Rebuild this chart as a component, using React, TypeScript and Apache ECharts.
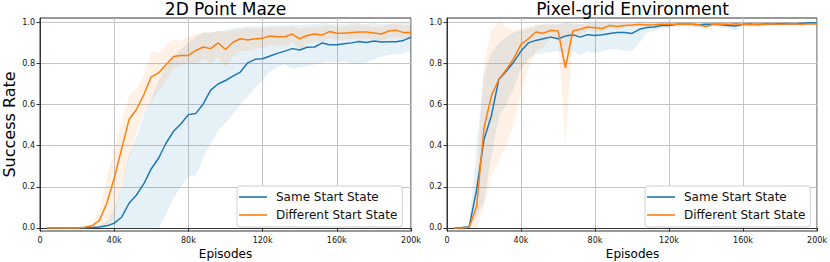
import React, { useEffect, useRef } from "react";
import * as echarts from "echarts";

const episodes = [
  4000, 8000, 12000, 16000, 20000, 24000, 28000, 32000, 36000, 40000,
  44000, 48000, 52000, 56000, 60000, 64000, 68000, 72000, 76000, 80000,
  84000, 88000, 92000, 96000, 100000, 104000, 108000, 112000, 116000, 120000,
  124000, 128000, 132000, 136000, 140000, 144000, 148000, 152000, 156000, 160000,
  164000, 168000, 172000, 176000, 180000, 184000, 188000, 192000, 196000, 200000,
];

const xTicks = [0, 40000, 80000, 120000, 160000, 200000];
const yTicks = [0, 0.2, 0.4, 0.6, 0.8, 1.0];
const seriesNames = ["Same Start State", "Different Start State"];
const panelTitles = ["2D Point Maze", "Pixel-grid Environment"];

// 2D Point Maze
const mazeSame = [
  0, 0, 0, 0, 0, 0.001, 0.002, 0.004, 0.01, 0.023,
  0.052, 0.12, 0.16, 0.215, 0.288, 0.34, 0.413, 0.47, 0.507, 0.551,
  0.557, 0.603, 0.67, 0.7, 0.717, 0.738, 0.758, 0.803, 0.82, 0.823,
  0.836, 0.849, 0.86, 0.872, 0.865, 0.879, 0.88, 0.899, 0.891, 0.891,
  0.896, 0.9, 0.907, 0.902, 0.909, 0.904, 0.905, 0.905, 0.912, 0.928,
];
const mazeSameLow = [
  0, 0, 0, 0, 0, 0, 0, 0, 0, 0,
  0, 0, 0, 0, 0, 0, 0.07, 0.145, 0.2, 0.25,
  0.256, 0.34, 0.41, 0.475, 0.51, 0.555, 0.6, 0.64, 0.68, 0.72,
  0.76, 0.785, 0.795, 0.775, 0.78, 0.787, 0.795, 0.805, 0.81, 0.805,
  0.81, 0.8, 0.8, 0.805, 0.82, 0.835, 0.84, 0.845, 0.85, 0.86,
];
const mazeSameHigh = [
  0, 0, 0, 0, 0, 0.002, 0.005, 0.01, 0.03, 0.09,
  0.2, 0.36, 0.44, 0.55, 0.63, 0.72, 0.78, 0.83, 0.87, 0.9,
  0.93, 0.95, 0.95, 0.955, 0.96, 0.97, 0.975, 0.98, 0.98, 0.98,
  0.985, 0.985, 0.985, 0.99, 0.985, 0.99, 0.99, 0.995, 0.99, 0.99,
  0.99, 0.995, 0.995, 0.99, 0.995, 0.99, 0.99, 0.995, 0.995, 0.997,
];
const mazeDiff = [
  0, 0, 0, 0, 0, 0.003, 0.01, 0.036, 0.12, 0.242,
  0.384, 0.527, 0.576, 0.649, 0.735, 0.755, 0.795, 0.834, 0.839, 0.839,
  0.863, 0.88, 0.872, 0.9, 0.868, 0.903, 0.92, 0.914, 0.92, 0.923,
  0.933, 0.93, 0.93, 0.943, 0.92, 0.936, 0.943, 0.938, 0.955, 0.947,
  0.947, 0.95, 0.953, 0.953, 0.948, 0.943, 0.958, 0.962, 0.95, 0.95,
];
const mazeDiffLow = [
  0, 0, 0, 0, 0, 0, 0, 0, 0.01, 0.05,
  0.2, 0.34, 0.46, 0.56, 0.62, 0.67, 0.72, 0.78, 0.79, 0.8,
  0.8, 0.82, 0.8, 0.83, 0.78, 0.83, 0.86, 0.86, 0.87, 0.875,
  0.89, 0.885, 0.885, 0.9, 0.87, 0.895, 0.905, 0.9, 0.925, 0.915,
  0.915, 0.92, 0.92, 0.92, 0.915, 0.91, 0.925, 0.93, 0.915, 0.915,
];
const mazeDiffHigh = [
  0, 0, 0, 0, 0, 0.005, 0.02, 0.08, 0.25, 0.38,
  0.52, 0.64, 0.68, 0.74, 0.86, 0.85, 0.89, 0.915, 0.91, 0.93,
  0.94, 0.95, 0.95, 0.96, 0.955, 0.96, 0.965, 0.97, 0.97, 0.97,
  0.975, 0.975, 0.975, 0.98, 0.97, 0.975, 0.98, 0.98, 0.985, 0.98,
  0.98, 0.985, 0.985, 0.985, 0.98, 0.98, 0.99, 0.99, 0.985, 0.985,
];

// Pixel-grid Environment
const pixelSame = [
  0, 0.002, 0.006, 0.185, 0.43, 0.546, 0.722, 0.762, 0.806, 0.86,
  0.9, 0.912, 0.92, 0.928, 0.92, 0.933, 0.94, 0.928, 0.94, 0.936,
  0.94, 0.946, 0.95, 0.95, 0.946, 0.966, 0.975, 0.977, 0.985, 0.985,
  0.99, 0.99, 0.99, 0.988, 0.99, 0.99, 0.988, 0.985, 0.982, 0.99,
  0.992, 0.988, 0.992, 0.993, 0.993, 0.994, 0.993, 0.995, 0.998, 0.997,
];
const pixelSameLow = [
  0, 0, 0, 0.05, 0.13, 0.35, 0.54, 0.6, 0.68, 0.77,
  0.82, 0.845, 0.85, 0.855, 0.86, 0.85, 0.86, 0.84, 0.86, 0.85,
  0.86, 0.868, 0.87, 0.86, 0.86, 0.9, 0.95, 0.96, 0.97, 0.975,
  0.98, 0.98, 0.98, 0.975, 0.98, 0.98, 0.975, 0.97, 0.96, 0.98,
  0.985, 0.975, 0.985, 0.985, 0.985, 0.988, 0.985, 0.99, 0.995, 0.994,
];
const pixelSameHigh = [
  0, 0.003, 0.012, 0.4, 0.75, 0.85, 0.9, 0.93, 0.95, 0.96,
  0.97, 0.98, 0.99, 0.99, 0.99, 0.995, 0.995, 0.99, 0.995, 0.995,
  0.995, 0.995, 0.995, 0.995, 0.995, 1.0, 1.0, 1.0, 1.0, 1.0,
  1.0, 1.0, 1.0, 1.0, 1.0, 1.0, 1.0, 1.0, 1.0, 1.0,
  1.0, 1.0, 1.0, 1.0, 1.0, 1.0, 1.0, 1.0, 1.0, 1.0,
];
const pixelDiff = [
  0, 0, 0.003, 0.104, 0.486, 0.644, 0.722, 0.77, 0.823, 0.893,
  0.92, 0.953, 0.947, 0.961, 0.958, 0.779, 0.958, 0.966, 0.977, 0.973,
  0.97, 0.985, 0.98, 0.985, 0.987, 0.99, 0.987, 0.988, 0.99, 0.99,
  0.99, 0.992, 0.99, 0.988, 0.98, 0.99, 0.992, 0.99, 0.993, 0.99,
  0.988, 0.992, 0.99, 0.993, 0.99, 0.992, 0.993, 0.99, 0.993, 0.992,
];
const pixelDiffLow = [
  0, 0, 0, 0, 0.1, 0.25, 0.33, 0.4, 0.5, 0.65,
  0.78, 0.86, 0.88, 0.92, 0.92, 0.4, 0.92, 0.94, 0.96, 0.955,
  0.95, 0.975, 0.965, 0.975, 0.978, 0.982, 0.978, 0.98, 0.982, 0.982,
  0.982, 0.985, 0.982, 0.978, 0.965, 0.982, 0.985, 0.982, 0.986, 0.982,
  0.978, 0.985, 0.982, 0.986, 0.982, 0.985, 0.986, 0.982, 0.986, 0.985,
];
const pixelDiffHigh = [
  0, 0, 0.008, 0.22, 0.8, 0.96, 1.0, 0.98, 0.96, 0.97,
  0.98, 0.99, 0.99, 0.99, 0.99, 1.0, 0.99, 0.99, 0.995, 0.995,
  0.995, 0.998, 0.995, 0.998, 0.998, 1.0, 0.998, 0.998, 1.0, 1.0,
  1.0, 1.0, 1.0, 0.998, 0.995, 1.0, 1.0, 1.0, 1.0, 1.0,
  0.998, 1.0, 1.0, 1.0, 1.0, 1.0, 1.0, 1.0, 1.0, 1.0,
];

const BLUE = "#1f77b4";
const ORANGE = "#ff7f0e";
const FONT = "DejaVu Sans";

function lineSeries(idx: number, name: string, vals: number[], color: string) {
  return {
    type: "line",
    name,
    xAxisIndex: idx,
    yAxisIndex: idx,
    data: episodes.map((e, i) => [e, vals[i]]),
    symbol: "none",
    showSymbol: false,
    clip: true,
    z: 3,
    lineStyle: { color, width: 1.5 },
    itemStyle: { color },
  };
}

function bandSeries(idx: number, low: number[], high: number[], fill: string) {
  return {
    type: "custom",
    xAxisIndex: idx,
    yAxisIndex: idx,
    silent: true,
    clip: true,
    z: 1,
    data: [[episodes[0], low[0]]],
    encode: { x: 0, y: 1 },
    renderItem: (_p: any, api: any) => {
      const pts: number[][] = [];
      for (let i = 0; i < episodes.length; i++) pts.push(api.coord([episodes[i], high[i]]));
      for (let i = episodes.length - 1; i >= 0; i--) pts.push(api.coord([episodes[i], low[i]]));
      return { type: "polygon", shape: { points: pts }, style: { fill, stroke: "none" } };
    },
  };
}

function xAxis(idx: number) {
  return {
    type: "value",
    gridIndex: idx,
    min: 0,
    max: 200000,
    interval: 40000,
    axisLine: { show: true, lineStyle: { color: "#333", width: 1 } },
    axisTick: { show: true, length: 3.5, customValues: xTicks, lineStyle: { color: "#333" } },
    axisLabel: {
      customValues: xTicks,
      formatter: (v: number) => (v === 0 ? "0" : v / 1000 + "k"),
      fontSize: 8,
      fontFamily: FONT,
      color: "#111",
      margin: 5,
    },
    splitLine: { show: true, lineStyle: { color: "#c4c4c4", width: 1 } },
  };
}

function yAxis(idx: number) {
  return {
    type: "value",
    gridIndex: idx,
    min: -0.015,
    max: 1.021,
    axisLine: { show: true, lineStyle: { color: "#333", width: 1 } },
    axisTick: { show: true, length: 3.5, customValues: yTicks, lineStyle: { color: "#333" } },
    axisLabel: {
      customValues: yTicks,
      formatter: (v: number) => v.toFixed(1),
      fontSize: 8,
      fontFamily: FONT,
      color: "#111",
      margin: 5,
    },
    splitLine: { show: true, lineStyle: { color: "#c4c4c4", width: 1 } },
  };
}

function legend(left: number) {
  return {
    orient: "vertical",
    left,
    top: 186,
    padding: [4, 5, 5, 2],
    itemGap: 4,
    itemWidth: 28,
    itemHeight: 1.6,
    icon: "rect",
    selectedMode: false,
    backgroundColor: "#fff",
    borderColor: "#d0d0d0",
    borderWidth: 1,
    borderRadius: 3,
    textStyle: { fontSize: 12, fontFamily: FONT, color: "#111", padding: [0, 0, 0, 4], lineHeight: 14 },
    data: seriesNames,
  };
}

function txt(x: number, y: number, text: string, size: number, rotation = 0) {
  return {
    type: "text",
    x,
    y,
    rotation,
    style: {
      text,
      fontSize: size,
      fontFamily: FONT,
      fill: "#000",
      align: "center",
      verticalAlign: "middle",
    },
  };
}

export default function App() {
  const ref = useRef<HTMLDivElement>(null);
  useEffect(() => {
    if (!ref.current) return;
    const chart = echarts.init(ref.current, null, { renderer: "svg" });
    chart.setOption({
      animation: false,
      backgroundColor: "#fff",
      grid: [
        { left: 40, right: 419, top: 18, bottom: 31, show: true, borderColor: "#333", borderWidth: 1 },
        { left: 447, right: 12, top: 18, bottom: 31, show: true, borderColor: "#333", borderWidth: 1 },
      ],
      xAxis: [xAxis(0), xAxis(1)],
      yAxis: [yAxis(0), yAxis(1)],
      legend: [legend(237), legend(645)],
      graphic: [
        txt(225.5, 9, panelTitles[0], 17),
        txt(632.5, 9, panelTitles[1], 17),
        txt(225.5, 254, "Episodes", 12),
        txt(632.5, 254, "Episodes", 12),
        txt(9, 124.5, "Success Rate", 16, Math.PI / 2),
      ],
      series: [
        bandSeries(0, mazeSameLow, mazeSameHigh, "rgba(31,119,180,0.11)"),
        bandSeries(0, mazeDiffLow, mazeDiffHigh, "rgba(255,127,14,0.11)"),
        lineSeries(0, seriesNames[0], mazeSame, BLUE),
        lineSeries(0, seriesNames[1], mazeDiff, ORANGE),
        bandSeries(1, pixelSameLow, pixelSameHigh, "rgba(31,119,180,0.11)"),
        bandSeries(1, pixelDiffLow, pixelDiffHigh, "rgba(255,127,14,0.11)"),
        lineSeries(1, seriesNames[0], pixelSame, BLUE),
        lineSeries(1, seriesNames[1], pixelDiff, ORANGE),
      ],
    });
    return () => chart.dispose();
  }, []);
  return (
    <div
      ref={ref}
      style={{ position: "fixed", left: 0, top: 0, width: 830, height: 262, background: "#fff" }}
    />
  );
}
